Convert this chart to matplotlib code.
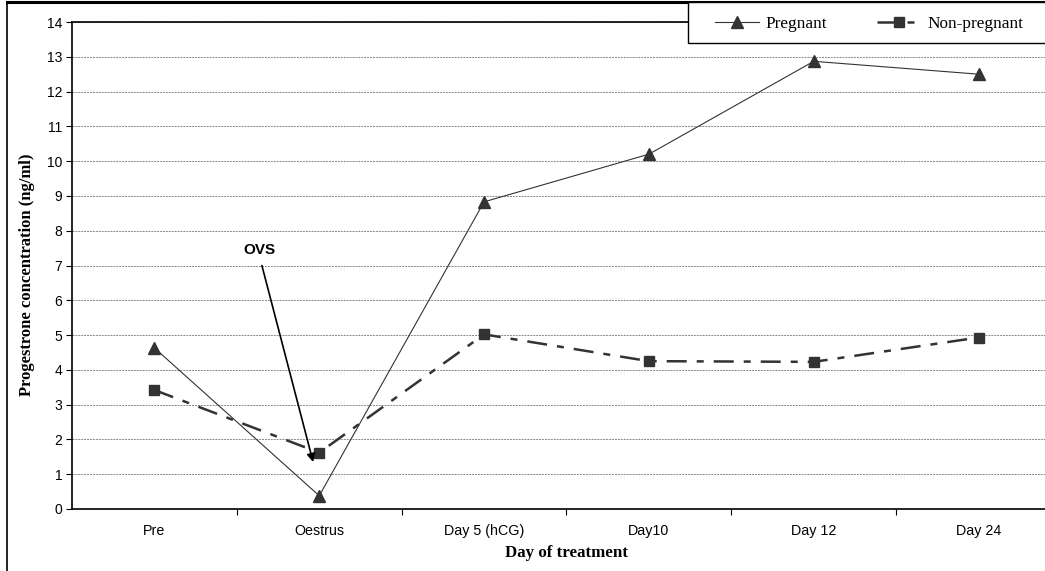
import matplotlib
matplotlib.use("Agg")
import matplotlib.pyplot as plt
from matplotlib.lines import Line2D
from matplotlib.patches import Rectangle
import numpy as np

# data
days = ["Pre", "Oestrus", "Day 5 (hCG)", "Day10", "Day 12", "Day 24"]
pregnant = [4.63, 0.38, 8.83, 10.2, 12.87, 12.5]
non_pregnant = [3.42, 1.62, 5.02, 4.25, 4.23, 4.93]

W, H = 1045, 571
fig = plt.figure(figsize=(W / 100, H / 100), dpi=100)
ax = fig.add_axes([72 / W, 1 - 509 / H, (1061 - 72) / W, (509 - 22) / H])

x = np.arange(len(days))
dark = "#333333"
ax.plot(x, pregnant, color=dark, lw=0.8, marker="^", ms=8.5,
        mfc=dark, mec=dark, label="Pregnant", zorder=3)
ln, = ax.plot(x, non_pregnant, color=dark, lw=1.8, marker="s", ms=6.5,
              mfc=dark, mec=dark, label="Non-pregnant", zorder=3)
ln.set_dashes((8, 4, 2.8, 4))

ax.set_xlim(-0.5, len(days) - 0.5)
ax.set_ylim(0, 14)
ax.set_yticks(range(0, 15))
ax.set_xticks(x)
ax.set_xticklabels(days, fontfamily="Liberation Sans", fontsize=10.3)
ax.set_xticks(np.arange(0.5, len(days) - 0.5, 1), minor=True)
ax.tick_params(axis="x", which="major", length=0, pad=11)
ax.tick_params(axis="x", which="minor", length=4, width=0.8, direction="out")
ax.tick_params(axis="y", length=4, width=0.8, direction="out", pad=3)
for lab in ax.get_yticklabels():
    lab.set_fontfamily("Liberation Sans")
    lab.set_fontsize(10)

ax.yaxis.grid(True, color="#888888", ls=(0, (2, 1)), lw=0.7)
ax.set_axisbelow(True)
for s in ["left", "bottom", "top"]:
    ax.spines[s].set_linewidth(1.2)
    ax.spines[s].set_color("black")
ax.spines["right"].set_visible(False)

ax.set_ylabel("Progestrone concentration (ng/ml)", fontfamily="Liberation Serif",
              fontweight="bold", fontsize=12)
ax.yaxis.set_label_coords(-0.037, 0.48)
ax.set_xlabel("Day of treatment", fontfamily="Liberation Serif",
              fontweight="bold", fontsize=12.2, labelpad=5)

# OVS annotation
ax.annotate("", xy=(0.963, 1.35), xytext=(0.652, 7.0),
            arrowprops=dict(arrowstyle="-|>", lw=1.2, color="black",
                            mutation_scale=12, shrinkA=0, shrinkB=0))
ax.text(0.64, 7.45, "OVS", fontfamily="Liberation Sans", fontweight="bold",
        fontsize=11, ha="center", va="center")

# figure border (left + top visible)
fig.add_artist(Line2D([7 / W, 7 / W], [0, 1 - 2 / H], transform=fig.transFigure,
                      color="black", lw=1.2))
fig.add_artist(Line2D([7 / W, 1], [1 - 2 / H, 1 - 2 / H], transform=fig.transFigure,
                      color="black", lw=2.2))

# legend box running off the right edge
fig.add_artist(Rectangle((688 / W, 1 - 43 / H), 0.5, 41 / H, transform=fig.transFigure,
                         facecolor="white", edgecolor="black", lw=1, zorder=5))
leg = fig.legend(handles=ax.get_lines(), loc="center left",
                 bbox_to_anchor=(699 / W, 1 - 24 / H), ncol=2, frameon=False,
                 prop=dict(family="Liberation Serif", size=12.4),
                 handlelength=2.6, columnspacing=2.9, handletextpad=0.35)
leg.set_zorder(6)

fig.savefig("out.png", dpi=100)
